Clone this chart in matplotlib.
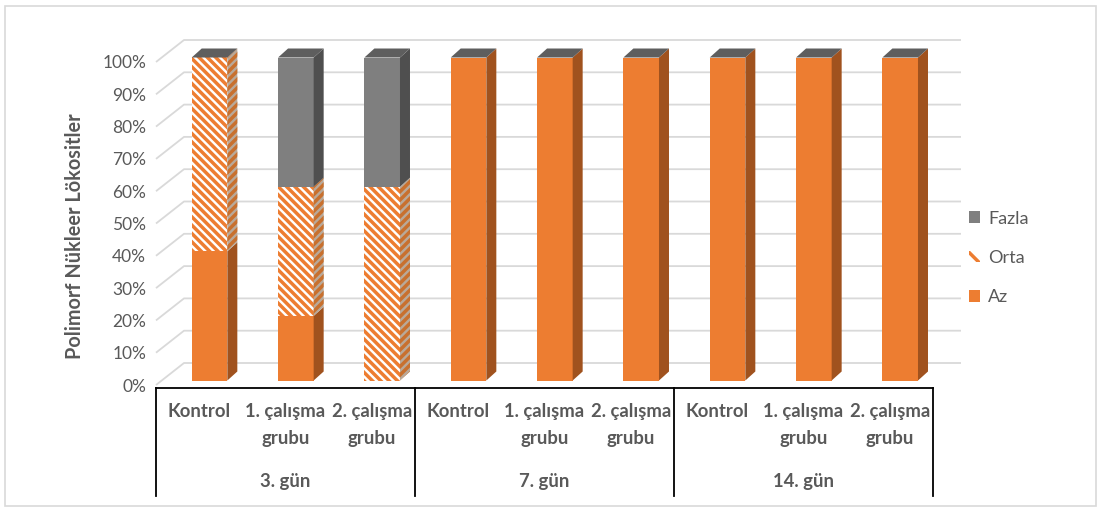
import matplotlib.pyplot as plt
import matplotlib.transforms as mtransforms
from matplotlib.patches import Patch, Rectangle
import numpy as np

plt.rcParams['font.family'] = ['Lato', 'DejaVu Sans']
plt.rcParams['hatch.linewidth'] = 2.5

# data
groups = ['Kontrol', '1. çalışma\ngrubu', '2. çalışma\ngrubu'] * 3
days = ['3. gün', '7. gün', '14. gün']
az = [40, 20, 0, 100, 100, 100, 100, 100, 100]
orta = [60, 40, 60, 0, 0, 0, 0, 0, 0]
fazla = [0, 40, 40, 0, 0, 0, 0, 0, 0]
ticks = list(range(0, 101, 10))

W, H = 1101, 508
fig = plt.figure(figsize=(W / 100, H / 100), dpi=100)
# plot box = front plane of the floor/wall
x0, x1, y0, y1 = 156, 933, 385, 62
ax = fig.add_axes([x0 / W, 1 - y0 / H, (x1 - x0) / W, (y0 - y1) / H])
n = len(groups)
ax.set_xlim(0, n)
ax.set_ylim(0, 100)
px_x = n / (x1 - x0)      # data units per pixel
px_y = 100 / (y0 - y1)

txt = '#595959'
orange = '#ED7D31'
orange_side = '#A0521E'
grey = '#7F7F7F'
grey_side = '#4F4F4F'
grey_top = '#5E5E5E'

# back wall gridlines (3d look)
wx, wy = 28 * px_x, 22 * px_y
for t in ticks:
    ax.plot([0, wx, n + wx], [t, t + wy, t + wy], color='#d9d9d9', lw=1.3,
            zorder=0, clip_on=False, solid_capstyle='butt')

# bars
bw = 35.6 * px_x
ox, oy = 0.12, 4.5 * px_y
dx, dy = 10 * px_x, 9 * px_y
series = [
    (az, dict(color=orange), dict(color=orange_side)),
    (orta, dict(facecolor='white', edgecolor=orange, hatch='\\\\\\\\'),
     dict(facecolor='#b9a999', edgecolor='#c8702e', hatch='////')),
    (fazla, dict(color=grey), dict(color=grey_side)),
]
for i in range(n):
    xc = i + 0.5 + ox
    xl, xr = xc - bw / 2, xc + bw / 2
    b = 0
    for vals, front, side in series:
        h = vals[i]
        if h > 0:
            ax.bar(xc, h, width=bw, bottom=b + oy, linewidth=0, zorder=3,
                   clip_on=False, **front)
            ax.fill([xr, xr + dx, xr + dx, xr],
                    [b + oy, b + oy + dy, b + h + oy + dy, b + h + oy],
                    linewidth=0, zorder=3, clip_on=False, **side)
        b += h
    top = b + oy
    ax.fill([xl, xl + dx, xr + dx, xr], [top, top + dy, top + dy, top],
            color=grey_top, linewidth=0, zorder=3, clip_on=False)

ax.set_yticks(ticks)
ax.set_yticklabels([f'{t}%' for t in ticks], color=txt, fontsize=12.5)
ax.tick_params(axis='y', length=0, pad=7)
ax.set_xticks([])
for s in ax.spines.values():
    s.set_visible(False)
ax.patch.set_alpha(0)

fig.text(75 / W, 1 - 236 / H, 'Polimorf Nükleer Lökositler', rotation=90,
         ha='center', va='center', fontsize=14.3, fontweight='bold', color=txt)

# category table under the plot
tr = mtransforms.blended_transform_factory(ax.transData, fig.transFigure)
fy = lambda p: 1 - p / H
ax.plot([0, n], [fy(388), fy(388)], color='black', lw=1.3, transform=tr, clip_on=False)
for k in range(0, n + 1, 3):
    ax.plot([k, k], [fy(388), fy(496)], color='black', lw=1.3, transform=tr,
            clip_on=False)
for i, g in enumerate(groups):
    ax.text(i + 0.5, fy(403), g, transform=tr, ha='center', va='top',
            fontsize=13.3, fontweight='bold', color=txt, linespacing=1.7)
for j, d in enumerate(days):
    ax.text(3 * j + 1.5, fy(481), d, transform=tr, ha='center', va='center',
            fontsize=13.3, fontweight='bold', color=txt)

handles = [Patch(facecolor=grey, edgecolor='none', label='Fazla'),
           Patch(facecolor='white', edgecolor=orange, hatch='\\\\', linewidth=0,
                 label='Orta'),
           Patch(facecolor=orange, edgecolor='none', label='Az')]
leg = fig.legend(handles=handles, loc='center left',
                 bbox_to_anchor=(953 / W, 1 - 258 / H), frameon=False,
                 fontsize=13, labelcolor=txt, handlelength=0.6,
                 handleheight=0.6, handletextpad=0.45, labelspacing=1.3)

fig.patches.append(Rectangle((5 / W, 1 - 506 / H), 1091 / W, 500 / H,
                             transform=fig.transFigure, fill=False,
                             edgecolor='#d9d9d9', lw=1.2))

fig.savefig('out.png', dpi=100)
